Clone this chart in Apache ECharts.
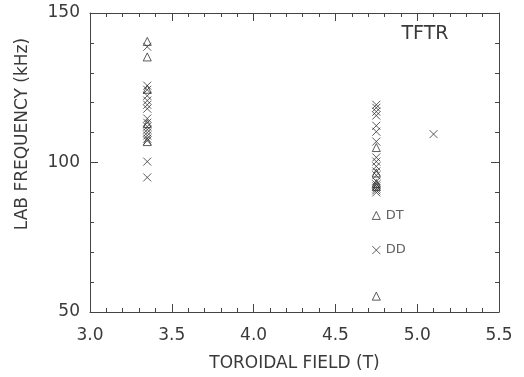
<!DOCTYPE html>
<html>
<head>
<meta charset="utf-8">
<script src="https://cdn.jsdelivr.net/npm/echarts@6/dist/echarts.min.js"></script>
<style>
  html, body { margin: 0; padding: 0; background: #fff; }
  #chart { width: 524px; height: 377px; }
</style>
</head>
<body>
<div id="chart"></div>
<script>
// Measured frequencies (kHz) per toroidal field (T)
var fieldLow = 3.35;
var fieldHigh = 4.75;
var fieldExtra = 5.1;

var ddAtLow = [138.7, 125.7, 124.3, 122.3, 120.7, 119.3, 118, 114.7, 113.3, 112, 111, 110, 109, 108, 107.3, 100.3, 95];
var dtAtLow = [140.5, 135.3, 124.5, 113, 107];
var ddAtHigh = [119.3, 118.3, 117, 115.7, 112.3, 110.3, 107, 101.7, 100.3, 98.7, 97, 95.7, 93.7, 92.7, 92, 91.3, 90.7, 90];
var dtAtHigh = [105, 96.5, 93, 92, 55.3];
var ddAtExtra = [109.5];

// In-plot key entries
var keyNames = ['DT', 'DD'];
var keyField = [4.75, 4.75];
var keyFreq = [82.3, 70.7];

var xTicks = [3.0, 3.5, 4.0, 4.5, 5.0, 5.5];
var yTicks = [50, 100, 150];

var FONT = 'DejaVu Sans';
var INK = '#3a3a3a';
var CROSS = 'path://M0,0L10,10M10,0L0,10';

function pairs(x, ys) { return ys.map(function (y) { return [x, y]; }); }

var ddData = pairs(fieldLow, ddAtLow).concat(pairs(fieldHigh, ddAtHigh), pairs(fieldExtra, ddAtExtra));
var dtData = pairs(fieldLow, dtAtLow).concat(pairs(fieldHigh, dtAtHigh));

var markStyle = { color: 'transparent', borderColor: '#333', borderWidth: 1 };

var axisCommon = {
  axisLine: { show: true, onZero: false, lineStyle: { color: '#444', width: 1 } },
  splitLine: { show: false }
};

function xAxisDef(pos, showLabels) {
  return Object.assign({
    type: 'value', position: pos,
    min: xTicks[0], max: xTicks[xTicks.length - 1], interval: 0.5,
    axisTick: { show: true, inside: true, length: 8, lineStyle: { color: '#444' } },
    minorTick: { show: true, splitNumber: 5, length: 4, lineStyle: { color: '#444' } },
    axisLabel: {
      show: showLabels, fontFamily: FONT, fontSize: 17, color: INK, margin: 15,
      formatter: function (v) { return v.toFixed(1); }
    }
  }, axisCommon);
}

function yAxisDef(pos, showLabels) {
  return Object.assign({
    type: 'value', position: pos,
    min: yTicks[0], max: yTicks[yTicks.length - 1], interval: 50,
    axisTick: { show: true, inside: true, length: 8, lineStyle: { color: '#444' } },
    minorTick: { show: true, splitNumber: 5, length: 4, lineStyle: { color: '#444' } },
    axisLabel: { show: showLabels, fontFamily: FONT, fontSize: 17, color: INK, margin: 10 }
  }, axisCommon);
}

var xBottom = xAxisDef('bottom', true);
xBottom.name = 'TOROIDAL FIELD (T)';
xBottom.nameLocation = 'middle';
xBottom.nameGap = 43;
xBottom.nameTextStyle = { fontFamily: FONT, fontSize: 17, color: INK };

var chart = echarts.init(document.getElementById('chart'), null, { renderer: 'canvas' });
chart.setOption({
  animation: false,
  backgroundColor: '#fff',
  grid: { left: 90, right: 25, top: 13, bottom: 64 },
  xAxis: [xBottom, xAxisDef('top', false)],
  yAxis: [yAxisDef('left', true), yAxisDef('right', false)],
  graphic: [
    {
      type: 'text', x: 23, y: 134, rotation: Math.PI / 2,
      style: { text: 'LAB FREQUENCY (kHz)', fontFamily: FONT, fontSize: 17, fill: INK, align: 'center', verticalAlign: 'middle' }
    },
    {
      type: 'text', x: 425, y: 34,
      style: { text: 'TFTR', fontFamily: FONT, fontSize: 19, fill: INK, align: 'center', verticalAlign: 'middle' }
    }
  ],
  series: [
    {
      name: 'DD', type: 'scatter', symbol: CROSS, symbolSize: 8,
      itemStyle: markStyle, data: ddData
    },
    {
      name: 'DT', type: 'scatter', symbol: 'triangle', symbolSize: 8,
      itemStyle: markStyle, data: dtData
    },
    {
      name: 'key', type: 'scatter', symbolSize: 8, itemStyle: markStyle,
      data: keyNames.map(function (n, i) {
        return {
          value: [keyField[i], keyFreq[i]],
          symbol: n === 'DT' ? 'triangle' : CROSS,
          label: { show: true, position: 'right', distance: 5, formatter: n, fontFamily: FONT, fontSize: 13, color: INK }
        };
      })
    }
  ]
});
</script>
</body>
</html>
